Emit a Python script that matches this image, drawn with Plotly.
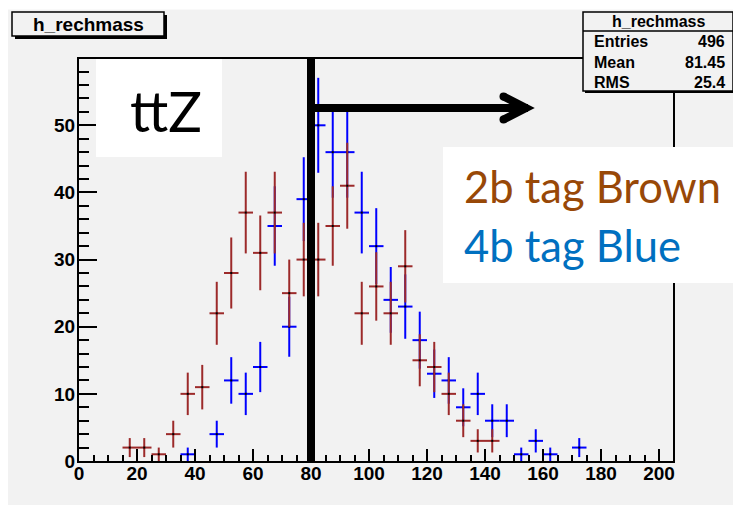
import numpy as np
import plotly.graph_objects as go

# ---------------- data ----------------
bin_centers_2b = [17.5, 22.5, 27.5, 32.5, 37.5, 42.5, 47.5, 52.5, 57.5, 62.5, 67.5, 72.5, 77.5,
                  82.5, 87.5, 92.5, 97.5, 102.5, 107.5, 112.5, 117.5, 122.5, 127.5, 132.5, 137.5, 142.5]
counts_2b = [2, 2, 1, 4, 10, 11, 22, 28, 37, 31, 37, 25, 30,
             30, 35, 41, 22, 26, 22, 29, 15, 14, 10, 6, 3, 3]

bin_centers_4b = [37.5, 47.5, 52.5, 57.5, 62.5, 67.5, 72.5, 77.5, 82.5, 87.5, 92.5, 97.5, 102.5,
                  107.5, 112.5, 117.5, 122.5, 127.5, 132.5, 137.5, 142.5, 147.5, 152.5, 157.5, 162.5, 172.5]
counts_4b = [1, 4, 12, 10, 14, 35, 20, 39, 50, 46, 46, 37, 32,
             24, 23, 18, 13, 12, 8, 10, 6, 6, 1, 3, 1, 2]

bin_width = 5.0
x_tick_values = [0, 20, 40, 60, 80, 100, 120, 140, 160, 180, 200]
x_tick_labels = ["0", "20", "40", "60", "80", "100", "120", "140", "160", "180", "200"]
y_tick_values = [0, 10, 20, 30, 40, 50]
y_tick_labels = ["0", "10", "20", "30", "40", "50"]

hist_title = "h_rechmass"
stats_labels = ["Entries", "Mean", "RMS"]
stats_values = ["496", "81.45", "25.4"]
cut_value = 80
sample_label = "ttZ"
legend_lines = ["2b tag Brown", "4b tag Blue"]

# ---------------- styling ----------------
PAGE_W, PAGE_H = 741, 505
OFF = 8                      # default body margin of the html page
W, H = PAGE_W - OFF, PAGE_H - OFF
L, R, T, B = 79, 673, 59, 461   # frame edges in page pixels
BG = "#f2f2f2"
BROWN = "#9c2a2a"
BLUE = "#0000ff"
ROOTFONT = "Liberation Sans, Arial, sans-serif"
OFFICEFONT = "Lato, Noto Sans, sans-serif"


def px(x):
    return (x - L) / (R - L)


def py(y):
    return (B - y) / (B - T)


fig = go.Figure()

for xs, ns, col in [(bin_centers_4b, counts_4b, BLUE), (bin_centers_2b, counts_2b, BROWN)]:
    fig.add_trace(go.Scatter(
        x=xs, y=ns, mode="markers",
        marker=dict(symbol="square", size=2, color="black", line=dict(width=0)),
        error_x=dict(type="constant", value=bin_width / 2, thickness=2, width=0, color=col),
        error_y=dict(type="data", array=np.sqrt(ns).tolist(), thickness=2, width=0, color=col),
        showlegend=False, hoverinfo="skip",
    ))

shapes = []
# top white strip of the slide above the ROOT canvas
shapes.append(dict(type="rect", xref="paper", yref="paper", x0=px(0), x1=px(PAGE_W), y0=py(OFF), y1=py(9.5),
                   fillcolor="white", line=dict(width=0), layer="above"))
# thick cut line
shapes.append(dict(type="line", xref="x", yref="paper", x0=cut_value, x1=cut_value, y0=0, y1=1,
                   line=dict(color="black", width=8), layer="above"))
# arrow
shapes.append(dict(type="line", xref="paper", yref="paper", x0=px(311), x1=px(528), y0=py(108), y1=py(108),
                   line=dict(color="black", width=8), layer="above"))
shapes.append(dict(type="path", xref="paper", yref="paper",
                   path=f"M{px(503.5)},{py(96.5)} L{px(526)},{py(108)} L{px(503.5)},{py(119.5)}",
                   line=dict(color="black", width=8), layer="above"))
for cy in (96.5, 119.5):
    shapes.append(dict(type="circle", xref="paper", yref="paper", x0=px(499.5), x1=px(507.5),
                       y0=py(cy + 4), y1=py(cy - 4), fillcolor="black", line=dict(width=0), layer="above"))
# white boxes
shapes.append(dict(type="rect", xref="paper", yref="paper", x0=px(96), x1=px(222), y0=py(157), y1=py(59),
                   fillcolor="white", line=dict(width=0), layer="above"))
shapes.append(dict(type="rect", xref="paper", yref="paper", x0=px(443), x1=px(738), y0=py(283), y1=py(147),
                   fillcolor="white", line=dict(width=0), layer="above"))
# title box with shadow
shapes.append(dict(type="rect", xref="paper", yref="paper", x0=px(15), x1=px(167), y0=py(39), y1=py(15),
                   fillcolor="black", line=dict(width=0), layer="above"))
shapes.append(dict(type="rect", xref="paper", yref="paper", x0=px(12), x1=px(164), y0=py(36), y1=py(12),
                   fillcolor=BG, line=dict(color="black", width=1.5), layer="above"))
# stats box with shadow
shapes.append(dict(type="rect", xref="paper", yref="paper", x0=px(585), x1=px(735), y0=py(93), y1=py(14),
                   fillcolor="black", line=dict(width=0), layer="above"))
shapes.append(dict(type="rect", xref="paper", yref="paper", x0=px(583), x1=px(733), y0=py(91), y1=py(12),
                   fillcolor=BG, line=dict(color="black", width=1.5), layer="above"))
shapes.append(dict(type="line", xref="paper", yref="paper", x0=px(583), x1=px(733), y0=py(31), y1=py(31),
                   line=dict(color="black", width=1.5), layer="above"))

annotations = []
annotations.append(dict(xref="paper", yref="paper", x=px(88), y=py(24), text=hist_title, showarrow=False,
                        xanchor="center", yanchor="middle",
                        font=dict(family=ROOTFONT, size=19, color="black", weight="bold")))
annotations.append(dict(xref="paper", yref="paper", x=px(658), y=py(21.5), text=hist_title, showarrow=False,
                        xanchor="center", yanchor="middle",
                        font=dict(family=ROOTFONT, size=16, color="black", weight="bold")))
for i, (lab, val) in enumerate(zip(stats_labels, stats_values)):
    yy = [41.5, 62, 82][i]
    annotations.append(dict(xref="paper", yref="paper", x=px(592), y=py(yy), text=lab, showarrow=False,
                            xanchor="left", yanchor="middle",
                            font=dict(family=ROOTFONT, size=16, color="black", weight="bold")))
    annotations.append(dict(xref="paper", yref="paper", x=px(727), y=py(yy), text=val, showarrow=False,
                            xanchor="right", yanchor="middle",
                            font=dict(family=ROOTFONT, size=16, color="black", weight="bold")))
annotations.append(dict(xref="paper", yref="paper", x=px(166), y=py(110), text=sample_label, showarrow=False,
                        xanchor="center", yanchor="middle",
                        font=dict(family=OFFICEFONT, size=56, color="black")))
annotations.append(dict(xref="paper", yref="paper", x=px(462), y=py(186), text=legend_lines[0], showarrow=False,
                        xanchor="left", yanchor="middle",
                        font=dict(family=OFFICEFONT, size=43.5, color="#984807")))
annotations.append(dict(xref="paper", yref="paper", x=px(462), y=py(245), text=legend_lines[1], showarrow=False,
                        xanchor="left", yanchor="middle",
                        font=dict(family=OFFICEFONT, size=43.5, color="#0070c0")))

fig.update_layout(
    width=W, height=H,
    margin=dict(l=L - OFF, r=PAGE_W - R, t=T - OFF, b=PAGE_H - B, pad=0),
    paper_bgcolor=BG, plot_bgcolor=BG,
    shapes=shapes, annotations=annotations,
    showlegend=False,
)
fig.update_xaxes(
    range=[0, (R - L) / 2.9], showgrid=False, zeroline=False,
    showline=True, linecolor="black", linewidth=2, mirror=True,
    ticks="inside", ticklen=12, tickwidth=2, tickcolor="black",
    tickvals=x_tick_values, ticktext=x_tick_labels, ticklabelstandoff=-6,
    tickfont=dict(family=ROOTFONT, size=19, color="black", weight="bold"),
    minor=dict(ticks="inside", ticklen=6, tickwidth=2, tickcolor="black", dtick=5, showgrid=False),
)
fig.update_yaxes(
    range=[0, (B - T) / 6.714], showgrid=False, zeroline=False,
    showline=True, linecolor="black", linewidth=2, mirror=True,
    ticks="inside", ticklen=18, tickwidth=2, tickcolor="black",
    tickvals=y_tick_values, ticktext=y_tick_labels, ticklabelstandoff=-2,
    tickfont=dict(family=ROOTFONT, size=19, color="black", weight="bold"),
    minor=dict(ticks="inside", ticklen=10, tickwidth=2, tickcolor="black", dtick=2, showgrid=False),
)

fig.write_html("out.html")
